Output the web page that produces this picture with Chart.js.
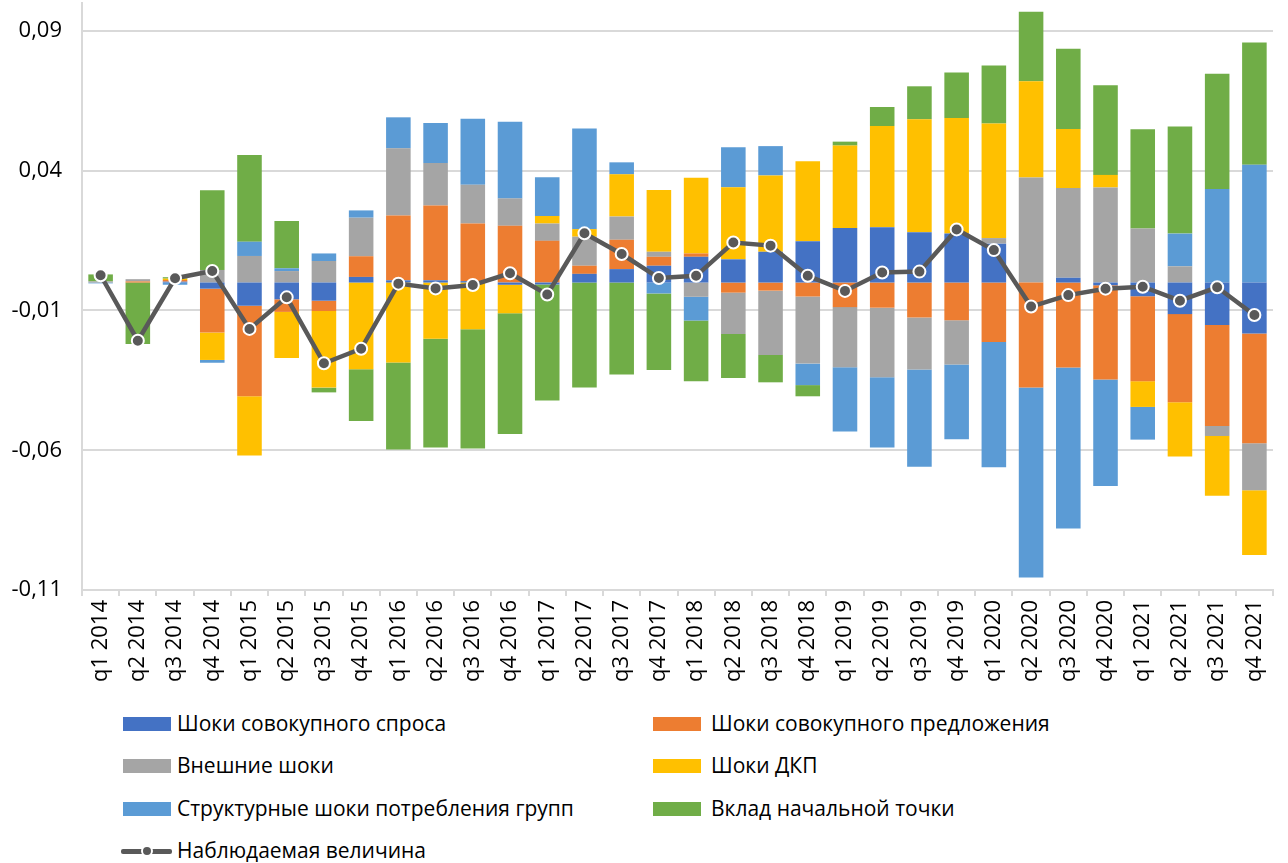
<!DOCTYPE html>
<html><head><meta charset="utf-8">
<script src="https://cdn.jsdelivr.net/npm/chart.js@4.4.1/dist/chart.umd.min.js"></script>
<style>
html,body{margin:0;padding:0;background:#fff;}
#wrap{position:relative;width:1288px;height:863px;overflow:hidden;}
#c{position:absolute;left:0;top:-5px;}
.lgt{position:absolute;font-family:'Open Sans',sans-serif;font-size:21px;line-height:28px;color:#000;white-space:nowrap;}
.sw{position:absolute;width:48px;height:14px;}
</style></head>
<body><div id="wrap"><canvas id="c" width="1288" height="700"></canvas><div id="legend"></div></div>
<script>
const categories = ['q1 2014','q2 2014','q3 2014','q4 2014','q1 2015','q2 2015','q3 2015','q4 2015',
  'q1 2016','q2 2016','q3 2016','q4 2016','q1 2017','q2 2017','q3 2017','q4 2017',
  'q1 2018','q2 2018','q3 2018','q4 2018','q1 2019','q2 2019','q3 2019','q4 2019',
  'q1 2020','q2 2020','q3 2020','q4 2020','q1 2021','q2 2021','q3 2021','q4 2021'];

const demandShocks = [0,0,0.0003,-0.0022,-0.0083,-0.006,-0.0065,0.002,
  0.0008,0.0008,0.0005,-0.0008,-0.0007,0.0031,0.0048,0.006,
  0.0092,0.0083,0.011,0.0148,0.0195,0.0198,0.018,0.0175,
  0.0139,0,0.0017,-0.001,-0.0049,-0.0113,-0.0152,-0.0182];
const supplyShocks = [0,0.0004,0.0006,-0.0157,-0.0324,-0.0045,-0.0037,0.0074,
  0.0232,0.0268,0.0206,0.0203,0.0149,0.0029,0.0105,0.0032,
  0.0012,-0.0036,-0.0029,-0.005,-0.0088,-0.009,-0.0125,-0.0135,
  -0.0213,-0.0376,-0.0304,-0.0337,-0.0304,-0.0315,-0.0361,-0.0393];
const externalShocks = [0.0004,0.0008,0,0.0045,0.0095,0.0041,0.0077,0.0138,
  0.024,0.0152,0.0139,0.0098,0.0062,0.0104,0.0083,0.0018,
  -0.0051,-0.0148,-0.023,-0.024,-0.0215,-0.0249,-0.0186,-0.0158,
  0.002,0.0376,0.0321,0.034,0.0193,0.0058,-0.0036,-0.0168];
const monetaryShocks = [0,0,0.0005,-0.0098,-0.0212,-0.0165,-0.0274,-0.031,
  -0.0286,-0.0201,-0.0167,-0.0102,0.0027,0.0027,0.0151,0.0221,
  0.0271,0.0258,0.0273,0.0286,0.0295,0.0362,0.0404,0.0414,
  0.041,0.0344,0.0211,0.0045,-0.0092,-0.0194,-0.0214,-0.0232];
const structuralShocks = [-0.0003,0,-0.0008,-0.001,0.0051,0.001,0.0027,0.0026,
  0.0111,0.0143,0.0236,0.0274,0.0139,0.036,0.0043,-0.0039,
  -0.0085,0.0143,0.0105,-0.0077,-0.023,-0.0251,-0.0348,-0.0268,
  -0.0448,-0.0679,-0.0576,-0.0381,-0.0117,0.0117,0.0335,0.0421];
const initialPoint = [0.0025,-0.022,0.0005,0.0285,0.031,0.0169,-0.0017,-0.0185,
  -0.0311,-0.0389,-0.0427,-0.0432,-0.0415,-0.0376,-0.0329,-0.0274,
  -0.0217,-0.0158,-0.0098,-0.004,0.0014,0.0068,0.0118,0.0162,
  0.0207,0.0249,0.0287,0.0321,0.0355,0.0383,0.0412,0.0438];
const observed = [0.0026,-0.0208,0.0015,0.0041,-0.0166,-0.0053,-0.0289,-0.0237,
  -0.0004,-0.0021,-0.0009,0.0033,-0.0043,0.0176,0.0102,0.0016,
  0.0024,0.0143,0.0132,0.0024,-0.003,0.0036,0.0039,0.019,
  0.0116,-0.0086,-0.0045,-0.0022,-0.0015,-0.0065,-0.0017,-0.0116];

const yTicks = [-0.11,-0.06,-0.01,0.04,0.09];

const seriesNames = ['Шоки совокупного спроса','Шоки совокупного предложения','Внешние шоки','Шоки ДКП',
  'Структурные шоки потребления групп','Вклад начальной точки'];
const lineName = 'Наблюдаемая величина';
const colors = ['#4472C4','#ED7D31','#A5A5A5','#FFC000','#5B9BD5','#70AD47'];
const barSeries = [demandShocks, supplyShocks, externalShocks, monetaryShocks, structuralShocks, initialPoint];

const FONT = "'Open Sans', sans-serif";

const datasets = barSeries.map((d,i)=>({
  type:'bar', label:seriesNames[i], data:d, backgroundColor:colors[i], borderWidth:0,
  barPercentage:1, categoryPercentage:0.66, order:1, stack:'bars'
}));
datasets.push({
  type:'line', label:lineName, data:observed, borderColor:'#595959', borderWidth:4.5,
  pointRadius:6, pointBackgroundColor:'#595959', pointBorderColor:'#ffffff', pointBorderWidth:2,
  tension:0, order:0, stack:'obs', fill:false
});

new Chart(document.getElementById('c'), {
  data:{labels:categories, datasets},
  options:{
    responsive:false, animation:false, devicePixelRatio:1,
    layout:{padding:{left:0,right:15,top:2,bottom:0}},
    plugins:{legend:{display:false}, tooltip:{enabled:false}},
    scales:{
      x:{
        stacked:true,
        afterFit:s=>{s.height=105; s.paddingLeft=0; s.paddingRight=0; s.paddingTop=0; s.paddingBottom=0;},
        grid:{display:true, drawOnChartArea:false, offset:true, tickLength:6, color:'#d9d9d9', lineWidth:2},
        border:{display:true, color:'#d9d9d9', width:2},
        ticks:{minRotation:90, maxRotation:90, autoSkip:false, padding:4, color:'#000', font:{family:FONT, size:22}}
      },
      y:{
        stacked:true, min:-0.11, max:0.1,
        afterBuildTicks:s=>{s.ticks = yTicks.map(v=>({value:v}));},
        afterFit:s=>{s.width=82; s.paddingTop=0; s.paddingBottom=0; s.paddingLeft=0; s.paddingRight=0;},
        grid:{color:'#d9d9d9', lineWidth:2, drawTicks:false},
        border:{display:true, color:'#d9d9d9', width:2},
        ticks:{padding:20, color:'#000', font:{family:FONT, size:22},
          callback:v=>v.toFixed(2).replace('.',',')}
      }
    }
  }
});

// legend (two columns, like the original)
const lg = document.getElementById('legend');
const rowsY = [724, 766, 809];
const colSwX = [123, 653];
const colTxtX = [177, 711];
seriesNames.forEach((name,i)=>{
  const col = i % 2, row = Math.floor(i/2);
  const sw = document.createElement('div');
  sw.className='sw'; sw.style.left=colSwX[col]+'px'; sw.style.top=(rowsY[row]-7)+'px'; sw.style.background=colors[i];
  lg.appendChild(sw);
  const t = document.createElement('div');
  t.className='lgt'; t.style.left=colTxtX[col]+'px'; t.style.top=(rowsY[row]-15)+'px'; t.textContent=name;
  lg.appendChild(t);
});
// line legend item
const ly = 851;
const ln = document.createElement('div');
ln.style.cssText='position:absolute;left:121px;top:'+(ly-2)+'px;width:51px;height:5px;background:#595959;border-radius:2px;';
lg.appendChild(ln);
const dot = document.createElement('div');
dot.style.cssText='position:absolute;left:141px;top:'+(ly-6)+'px;width:8px;height:8px;background:#595959;border:2px solid #fff;border-radius:50%;';
lg.appendChild(dot);
const lt = document.createElement('div');
lt.className='lgt'; lt.style.left='177px'; lt.style.top=(ly-15)+'px'; lt.textContent=lineName;
lg.appendChild(lt);
</script>
</body></html>
